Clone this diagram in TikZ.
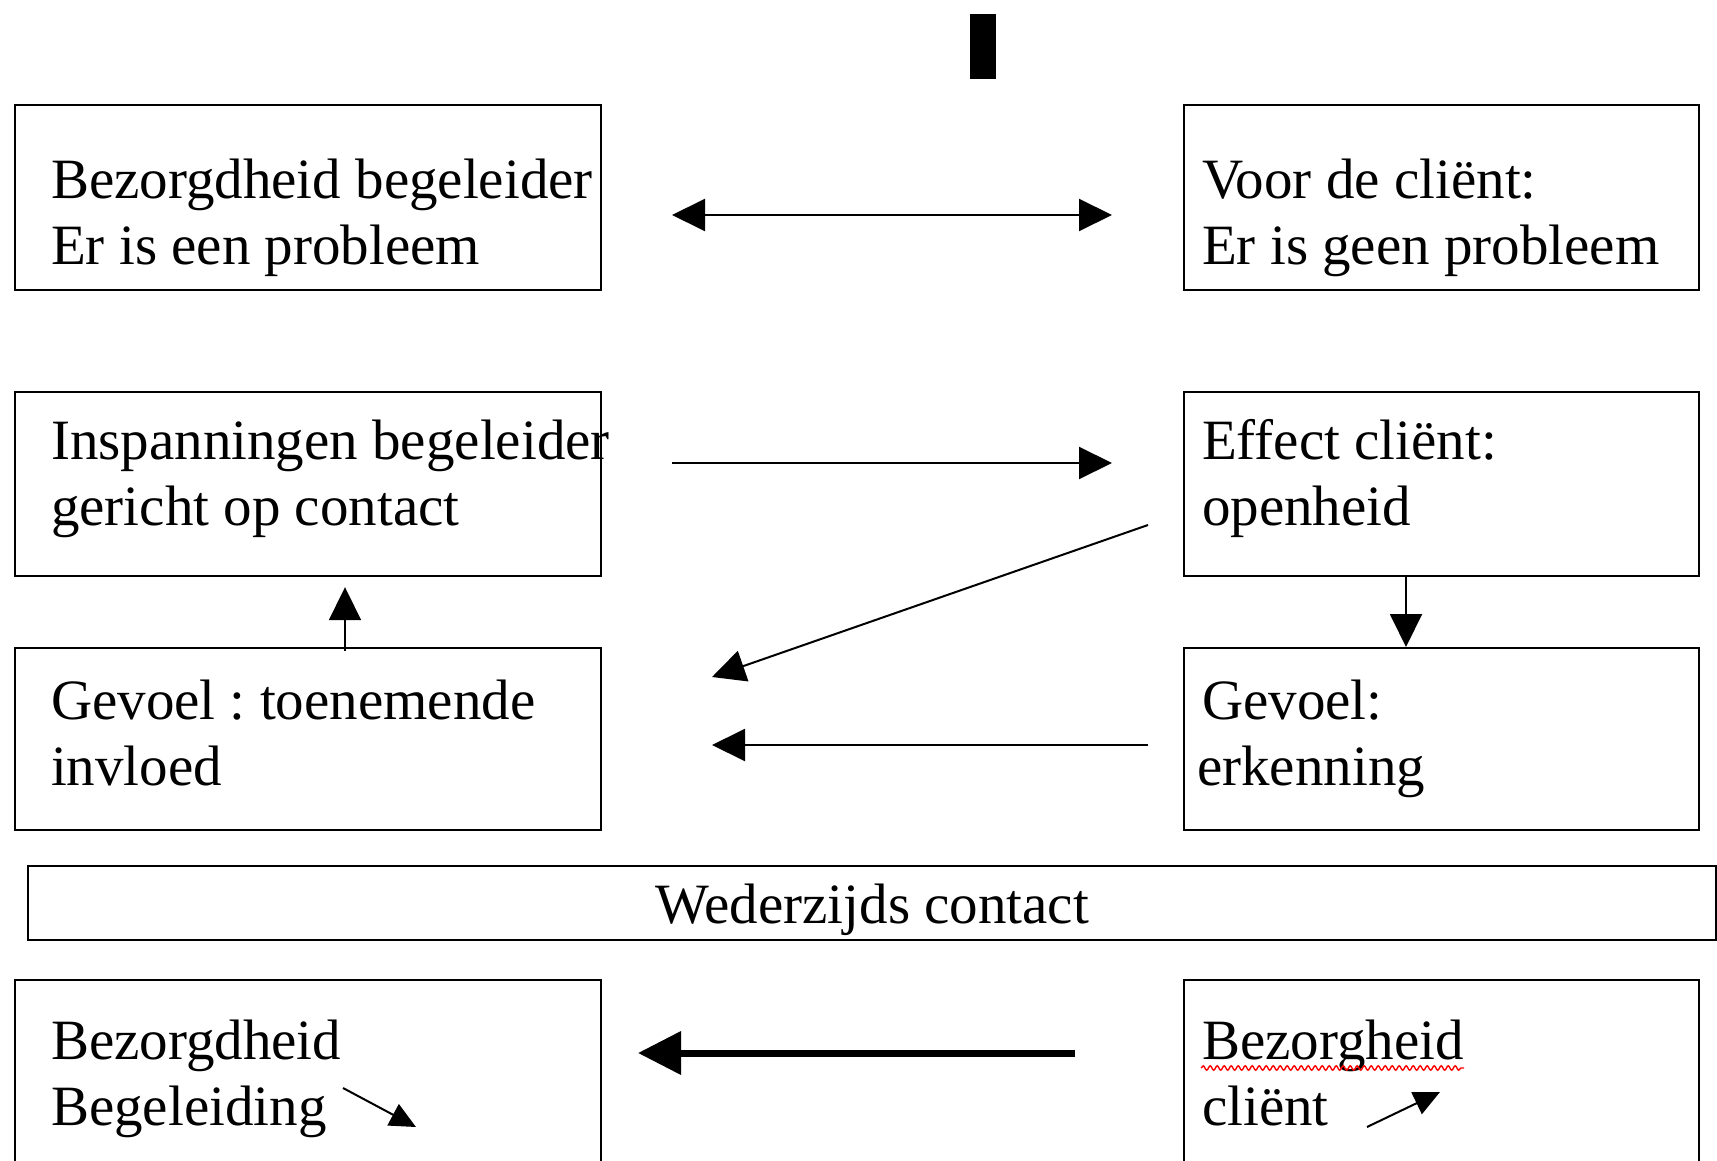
\documentclass[tikz,border=0pt]{standalone}
\usepackage{fontspec}
\setmainfont{Liberation Serif}
\usetikzlibrary{arrows.meta,calc,decorations.pathmorphing}

\newcommand{\boven}[1]{\rule{0pt}{#1pt}}
\newcommand{\onder}[1]{\rule[-#1pt]{0pt}{#1pt}}

\begin{document}
\frenchspacing
\begin{tikzpicture}[
	x=1pt, y=-1pt,
	box/.style={
		rectangle,
		draw=black,
		line width=2.2pt,
		inner ysep=0pt,
		anchor=north west,
		align=flush left,
		font=\fontsize{57pt}{66pt}\selectfont
	},
	links/.style={box, inner xsep=36pt, text width=514pt},
	rechts/.style={box, inner xsep=18pt, text width=479pt},
	breed/.style={box, inner xsep=0pt, text width=1688pt, align=flush center},
	pijl/.style={-{Triangle[length=33pt,width=32pt]}, line width=2pt},
	dubbel/.style={{Triangle[length=33pt,width=32pt]}-{Triangle[length=33pt,width=32pt]}, line width=2pt},
	dikpijl/.style={-{Triangle[length=43pt,width=42pt]}, line width=7pt},
	klein/.style={-{Triangle[length=26pt,width=24pt]}, line width=2pt},
	golf/.style={red, line width=1.4pt, decorate, decoration={snake, amplitude=2.2pt, segment length=7pt}}
]
\useasboundingbox (0,0) rectangle (1717,1161);

% Balk bovenaan
\node[fill=black, inner sep=0pt, minimum width=26pt, minimum height=65pt, anchor=north west] (balk) at (970,14) {};

% Rij 1
\node[links] (bezBeg) at (14,104) {\boven{93}\mbox{Bezorgdheid begeleider}\\Er is een probleem\onder{26}};
\node[rechts] (geenProb) at (1183,104) {\boven{93}Voor de cliënt:\\Er is geen probleem\onder{26}};

% Rij 2
\node[links] (insp) at (14,391) {\boven{67}\mbox{Inspanningen begeleider}\\gericht op contact\onder{51}};
\node[rechts] (effect) at (1183,391) {\boven{67}Effect cliënt:\\openheid\onder{51}};

% Rij 3
\node[links] (invloed) at (14,647) {\boven{71}Gevoel : toenemende\\invloed\onder{45}};
\node[rechts] (erkenning) at (1183,647) {\boven{71}Gevoel:\\\hspace*{-5pt}erkenning\onder{45}};

% Wederzijds contact
\node[breed] (contact) at (27,865) {\boven{57}Wederzijds contact\onder{17}};

% Rij 4
\node[links] (bezBeg2) at (14,979) {\boven{79}Bezorgdheid\\Begeleiding\onder{67}};
\node[rechts] (bezCl) at (1183,979) {\boven{79}Bezorgheid\\cliënt\onder{67}};

% Vrije eindpunten van de pijlen
\coordinate (a1l) at (672,215);
\coordinate (a1r) at (1112,215);
\coordinate (a2l) at (672,463);
\coordinate (a2r) at (1112,463);
\coordinate (a3s) at (1148,525);
\coordinate (a3t) at (712,677);
\coordinate (a4s) at (1148,745);
\coordinate (a4t) at (712,745);
\coordinate (a5s) at (1075,1053);
\coordinate (a5t) at (638,1053);
\coordinate (k1s) at (343,1088);
\coordinate (k1t) at (416,1127);
\coordinate (k2s) at (1367,1127);
\coordinate (k2t) at (1440,1092);

% Pijlen
\draw[dubbel] (a1l) -- (a1r);
\draw[pijl] (a2l) -- (a2r);
\draw[pijl] (a3s) -- (a3t);
\draw[pijl] (a4s) -- (a4t);
\draw[pijl] ($(invloed.north west)+(331,4)$) -- ($(insp.south west)+(331,10)$);
\draw[pijl] ($(effect.south west)+(223,0)$) -- ($(erkenning.north west)+(223,0)$);
\draw[dikpijl] (a5s) -- (a5t);
\draw[klein] (k1s) -- (k1t);
\draw[klein] (k2s) -- (k2t);

% Spellingcontrole
\draw[golf] ($(bezCl.north west)+(18,89)$) -- ++(263,0);

\end{tikzpicture}
\end{document}
